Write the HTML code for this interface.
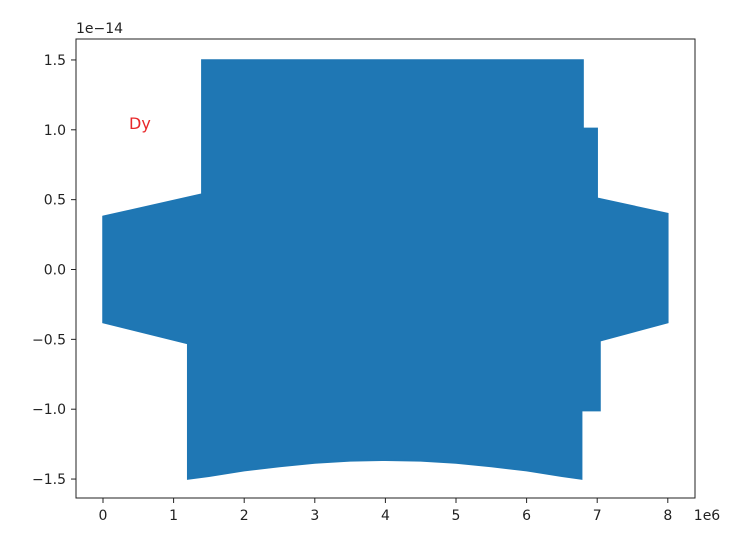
<!DOCTYPE html>
<html><head><meta charset="utf-8"><style>
body{margin:0;background:#fff;font-family:"Liberation Sans","DejaVu Sans",sans-serif}
svg text{font-family:"DejaVu Sans","Liberation Sans",sans-serif;font-size:14px;fill:#222}
</style></head><body>
<svg id="c" width="754" height="555">
<rect x="0" y="0" width="754" height="555" fill="#fff"/>
<g id="plot"></g>
<rect x="76" y="39" width="619" height="459" fill="none" stroke="#222" stroke-width="1"/>
<g id="axes"></g>
<text x="76" y="33">1e−14</text>
<text x="707" y="520" text-anchor="middle">1e6</text>
<text x="129" y="129" style="fill:#e8272a;font-size:16px">Dy</text>
</svg>
<script>
const xTicks=[0,1,2,3,4,5,6,7,8];
const yTicks=[-1.5,-1.0,-0.5,0.0,0.5,1.0,1.5];
const upperX=[0,1.4,1.4,6.8,6.8,7.0,7.0,8.0];
const upperY=[0.38,0.54,1.5,1.5,1.01,1.01,0.51,0.40];
const lowerX=[0,1.2,1.2,1.5,2,2.5,3,3.5,4,4.5,5,5.5,6,6.5,6.78,6.78,7.04,7.04,8.0];
const lowerY=[-0.38,-0.53,-1.5,-1.48,-1.44,-1.41,-1.385,-1.37,-1.365,-1.37,-1.385,-1.41,-1.44,-1.48,-1.5,-1.01,-1.01,-0.51,-0.38];
const sx=v=>103+70.6*v, sy=v=>269.5-139.7*v;
const NS="http://www.w3.org/2000/svg";
const plot=document.getElementById('plot'), axes=document.getElementById('axes');
let pts=[];
for(let i=0;i<upperX.length;i++)pts.push(sx(upperX[i])+','+sy(upperY[i]));
for(let i=lowerX.length-1;i>=0;i--)pts.push(sx(lowerX[i])+','+sy(lowerY[i]));
const poly=document.createElementNS(NS,'polygon');
poly.setAttribute('points',pts.join(' '));
poly.setAttribute('fill','#1f77b4');poly.setAttribute('stroke','#1f77b4');poly.setAttribute('stroke-width','1.5');


plot.appendChild(poly);
xTicks.forEach(t=>{
 const l=document.createElementNS(NS,'line');
 l.setAttribute('x1',sx(t));l.setAttribute('x2',sx(t));l.setAttribute('y1',498);l.setAttribute('y2',503);l.setAttribute('stroke','#222');
 
 
 axes.appendChild(l);
 const tx=document.createElementNS(NS,'text');
 tx.setAttribute('x',sx(t));tx.setAttribute('y',520);tx.setAttribute('text-anchor','middle');tx.textContent=t;
 
 
 axes.appendChild(tx);
});
yTicks.forEach(t=>{
 const l=document.createElementNS(NS,'line');
 l.setAttribute('x1',71);l.setAttribute('x2',76);l.setAttribute('y1',sy(t));l.setAttribute('y2',sy(t));l.setAttribute('stroke','#222');
 
 
 axes.appendChild(l);
 const tx=document.createElementNS(NS,'text');
 tx.setAttribute('x',66);tx.setAttribute('y',sy(t)+5);tx.setAttribute('text-anchor','end');
 tx.textContent=(t<0?'−':'')+Math.abs(t).toFixed(1);
 
 
 axes.appendChild(tx);
});
</script>
</body></html>
